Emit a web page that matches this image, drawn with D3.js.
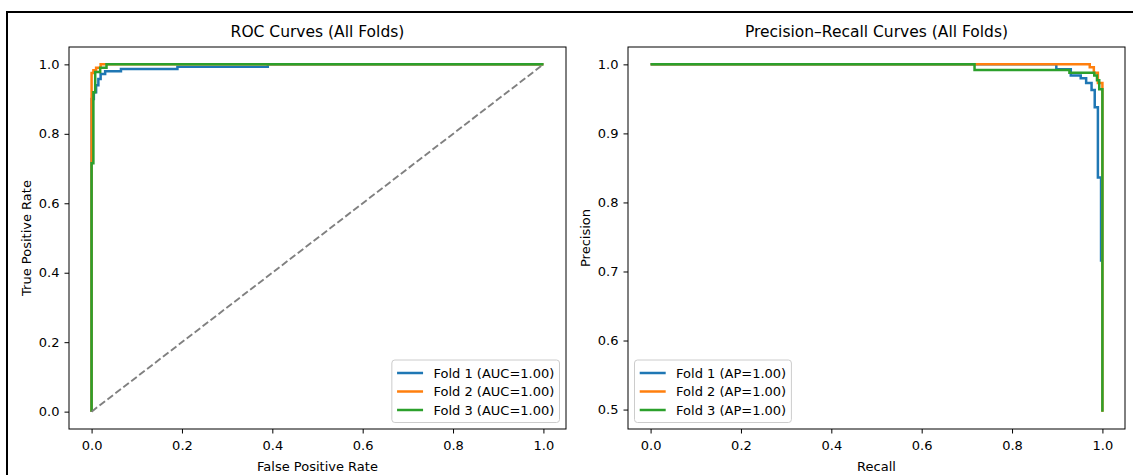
<!DOCTYPE html>
<html>
<head>
<meta charset="utf-8">
<script src="https://cdn.jsdelivr.net/npm/d3@7"></script>
<style>
  body { margin: 0; background: #fff; }
  svg text { font-family: "DejaVu Sans", sans-serif; fill: #000; }
</style>
</head>
<body>
<div id="chart"></div>
<script>
var svgWidth = 1133;
var svgHeight = 475;

var foldNames = ["Fold 1", "Fold 2", "Fold 3"];
var foldColors = ["#1f77b4", "#ff7f0e", "#2ca02c"];
var aucValues = [1.00, 1.00, 1.00];
var apValues = [1.00, 1.00, 1.00];
var tickValsX = [0, 0.2, 0.4, 0.6, 0.8, 1.0];
var tickValsRocY = [0, 0.2, 0.4, 0.6, 0.8, 1.0];
var tickValsPrY = [0.5, 0.6, 0.7, 0.8, 0.9, 1.0];

// ROC curves
var fold1Fpr = [0, 0, 0.005, 0.005, 0.01, 0.01, 0.015, 0.015, 0.02, 0.02, 0.03, 0.03, 0.065, 0.065, 0.19, 0.19, 0.39, 0.39, 1];
var fold1Tpr = [0, 0.90, 0.90, 0.92, 0.92, 0.94, 0.94, 0.958, 0.958, 0.972, 0.972, 0.98, 0.98, 0.987, 0.987, 0.993, 0.993, 1, 1];
var fold2Fpr = [0, 0, 0.004, 0.004, 0.01, 0.01, 0.02, 0.02, 1];
var fold2Tpr = [0, 0.975, 0.975, 0.983, 0.983, 0.99, 0.99, 1, 1];
var fold3Fpr = [0, 0, 0.004, 0.004, 0.008, 0.008, 0.019, 0.019, 0.033, 0.033, 1];
var fold3Tpr = [0, 0.715, 0.715, 0.92, 0.92, 0.978, 0.978, 0.99, 0.99, 1, 1];

// Precision-recall curves
var fold1Recall = [0, 0.898, 0.898, 0.93, 0.93, 0.952, 0.952, 0.964, 0.964, 0.976, 0.976, 0.983, 0.983, 0.99, 0.99, 0.997, 0.997];
var fold1Precision = [1, 1, 0.993, 0.993, 0.984, 0.984, 0.98, 0.98, 0.973, 0.973, 0.963, 0.963, 0.938, 0.938, 0.836, 0.836, 0.714];
var fold2Recall = [0, 0.972, 0.972, 0.981, 0.981, 0.99, 0.99, 1, 1];
var fold2Precision = [1, 1, 0.996, 0.996, 0.988, 0.988, 0.973, 0.973, 0.497];
var fold3Recall = [0, 0.717, 0.717, 0.927, 0.927, 0.982, 0.982, 0.988, 0.988, 0.993, 0.993, 1, 1];
var fold3Precision = [1, 1, 0.992, 0.992, 0.988, 0.988, 0.984, 0.984, 0.977, 0.977, 0.964, 0.964, 0.497];

var rocSeries = [[fold1Fpr, fold1Tpr], [fold2Fpr, fold2Tpr], [fold3Fpr, fold3Tpr]];
var prSeries = [[fold1Recall, fold1Precision], [fold2Recall, fold2Precision], [fold3Recall, fold3Precision]];

var svg = d3.select("#chart")
  .append("svg")
  .attr("width", svgWidth)
  .attr("height", svgHeight);

// outer frame of the screenshot
svg.append("rect")
  .attr("x", 7).attr("y", 12)
  .attr("width", 1140).attr("height", 480)
  .attr("fill", "none")
  .attr("stroke", "#000")
  .attr("stroke-width", 2);

var plotTop = 47, plotBottom = 429;

function pad(lo, hi) {
  var m = (hi - lo) * 0.05;
  return [lo - m, hi + m];
}

function drawPanel(opts) {
  var x = d3.scaleLinear().domain(pad(0, 1)).range([opts.left, opts.right]);
  var yMin = d3.min(opts.series, s => d3.min(s[1]));
  var yMax = d3.max(opts.series, s => d3.max(s[1]));
  var y = d3.scaleLinear().domain(pad(yMin, yMax)).range([plotBottom, plotTop]);

  var g = svg.append("g");

  var clipId = "clip" + opts.left;
  svg.append("clipPath").attr("id", clipId)
    .append("rect")
    .attr("x", opts.left).attr("y", plotTop)
    .attr("width", opts.right - opts.left).attr("height", plotBottom - plotTop);

  var plot = g.append("g").attr("clip-path", `url(#${clipId})`);

  var line = d3.line().x(d => x(d[0])).y(d => y(d[1]));

  opts.series.forEach(function(s, i) {
    var pts = s[0].map((v, j) => [v, s[1][j]]);
    plot.append("path")
      .attr("d", line(pts))
      .attr("fill", "none")
      .attr("stroke", foldColors[i])
      .attr("stroke-width", 2.5)
      .attr("stroke-linejoin", "miter");
  });

  if (opts.diagonal) {
    plot.append("path")
      .attr("d", line([[0, 0], [1, 1]]))
      .attr("fill", "none")
      .attr("stroke", "#808080")
      .attr("stroke-width", 1.9)
      .attr("stroke-dasharray", "7,3");
  }

  // axes
  var xAxis = d3.axisBottom(x).tickValues(tickValsX).tickFormat(d3.format(".1f"))
    .tickSize(4.5).tickPadding(7);
  var yAxis = d3.axisLeft(y).tickValues(opts.yTicks).tickFormat(d3.format(".1f"))
    .tickSize(4.5).tickPadding(5);

  var gx = g.append("g").attr("transform", `translate(0, ${plotBottom})`).call(xAxis);
  var gy = g.append("g").attr("transform", `translate(${opts.left}, 0)`).call(yAxis);
  [gx, gy].forEach(function(a) {
    a.select(".domain").remove();
    a.selectAll("line").attr("stroke", "#000").attr("stroke-width", 1);
    a.selectAll("text").attr("font-size", 13).attr("font-family", "DejaVu Sans");
  });

  g.append("rect")
    .attr("x", opts.left).attr("y", plotTop)
    .attr("width", opts.right - opts.left).attr("height", plotBottom - plotTop)
    .attr("fill", "none").attr("stroke", "#000").attr("stroke-width", 1);

  // titles and labels
  var cx = (opts.left + opts.right) / 2;
  g.append("text")
    .attr("x", cx).attr("y", 37)
    .attr("text-anchor", "middle")
    .attr("font-size", 15.5)
    .text(opts.title);

  g.append("text")
    .attr("x", cx).attr("y", 471)
    .attr("text-anchor", "middle")
    .attr("font-size", 13)
    .text(opts.xLabel);

  g.append("text")
    .attr("transform", `translate(${opts.left - 38}, ${(plotTop + plotBottom) / 2}) rotate(-90)`)
    .attr("text-anchor", "middle")
    .attr("font-size", 13)
    .text(opts.yLabel);

  // legend
  var fs = 13;
  var rowH = 18.5;
  var labels = opts.labels;
  var tmp = g.append("g");
  var maxW = 0;
  labels.forEach(function(l) {
    var t = tmp.append("text").attr("font-size", fs).text(l);
    maxW = Math.max(maxW, t.node().getComputedTextLength());
  });
  tmp.remove();
  var boxW = 5.2 + 26 + 10.4 + maxW + 5.2;
  var boxH = 62.5;
  var bx = opts.legendRight ? opts.right - 6.5 - boxW : opts.left + 6.5;
  var by = plotBottom - 6.5 - boxH;

  var lg = g.append("g");
  lg.append("rect")
    .attr("x", bx).attr("y", by)
    .attr("width", boxW).attr("height", boxH)
    .attr("rx", 3)
    .attr("fill", "#fff").attr("fill-opacity", 0.8)
    .attr("stroke", "#cccccc").attr("stroke-width", 1);

  labels.forEach(function(l, i) {
    var cy = by + 13 + i * rowH;
    lg.append("line")
      .attr("x1", bx + 5.2).attr("x2", bx + 5.2 + 26)
      .attr("y1", cy).attr("y2", cy)
      .attr("stroke", foldColors[i]).attr("stroke-width", 2.5);
    lg.append("text")
      .attr("x", bx + 5.2 + 26 + 10.4).attr("y", cy)
      .attr("dy", "0.36em")
      .attr("font-size", fs)
      .text(l);
  });
}

drawPanel({
  left: 69, right: 566,
  series: rocSeries,
  yTicks: tickValsRocY,
  diagonal: true,
  title: "ROC Curves (All Folds)",
  xLabel: "False Positive Rate",
  yLabel: "True Positive Rate",
  labels: foldNames.map((n, i) => `${n} (AUC=${aucValues[i].toFixed(2)})`),
  legendRight: true
});

drawPanel({
  left: 628, right: 1125,
  series: prSeries,
  yTicks: tickValsPrY,
  diagonal: false,
  title: "Precision\u2013Recall Curves (All Folds)",
  xLabel: "Recall",
  yLabel: "Precision",
  labels: foldNames.map((n, i) => `${n} (AP=${apValues[i].toFixed(2)})`),
  legendRight: false
});
</script>
</body>
</html>
